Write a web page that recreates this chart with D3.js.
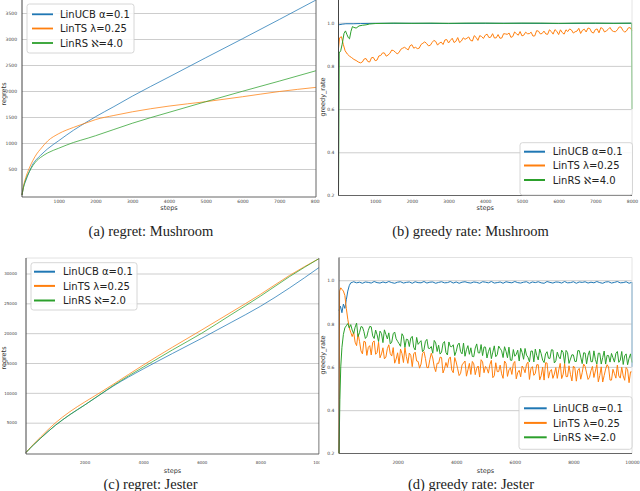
<!DOCTYPE html>
<html><head><meta charset="utf-8">
<script src="https://cdn.jsdelivr.net/npm/d3@7"></script>
<style>body{margin:0;background:#fff;}svg{display:block;}</style>
</head><body>
<svg id="chart" width="640" height="491"></svg>
<script>
// ---------------- DATA ----------------
const colors = ["#1f77b4", "#ff7f0e", "#2ca02c"];
const namesMushroom = ["LinUCB α=0.1", "LinTS λ=0.25", "LinRS ℵ=4.0"];
const namesJester = ["LinUCB α=0.1", "LinTS λ=0.25", "LinRS ℵ=2.0"];

// (a) regret: Mushroom
const aSteps = [0,50,100,200,300,400,500,700,1000,1400,1800,2000,2500,3000,4000,5000,6000,7000,8000];
const aUCB = [0,170,270,450,600,690,760,890,1045,1245,1420,1505,1700,1900,2270,2640,3005,3375,3750];
const aTS  = [0,200,330,520,670,790,880,1040,1180,1300,1400,1450,1530,1600,1710,1795,1890,1990,2070];
const aRS  = [0,180,290,450,570,660,720,810,900,1010,1095,1140,1260,1380,1590,1795,1995,2190,2390];
const aXTicks = [1000,2000,3000,4000,5000,6000,7000,8000];
const aYTicks = [500,1000,1500,2000,2500,3000,3500];

// (b) greedy rate: Mushroom
const bUCBSteps = [0,100,200,400,600,1000,2000,3000,4000,5000,6000,7000,8000];
const bUCB = [0.99,0.993,0.995,0.995,0.996,0.997,0.997,0.996,0.997,0.997,0.996,0.997,0.997];
const bRSSteps = [0,20,60,100,150,190,230,270,300,340,380,420,480,560,650,750,850,1000,1500,2000,
                  2500,3000,3500,4000,4500,5000,5500,6000,6500,7000,7500,7990,8000];
const bRS = [0.2,0.86,0.87,0.9,0.95,0.962,0.945,0.93,0.925,0.96,0.982,0.978,0.975,0.985,0.988,0.99,0.994,0.996,0.998,0.997,
             0.998,0.997,0.998,0.998,0.997,0.998,0.998,0.997,0.998,0.998,0.997,0.998,0.6];
const bTSEarlySteps = [0,30,80,130,180,240,300,360,420,480,540];
const bTSEarly = [0.88,0.93,0.935,0.9,0.87,0.855,0.845,0.838,0.83,0.825,0.818];
const bTSMainStart = 600, bTSMainEvery = 50;
const bTSMain = [
  .814,.818,.832,.834,.820,.818,.838,.839,.824,.827,.846,.848,.860,.860,.845,.850,.858,.873,.871,.863,
  .856,.862,.877,.882,.886,.880,.874,.893,.898,.882,.886,.880,.882,.899,.905,.911,.904,.893,.895,.908,
  .918,.913,.896,.906,.910,.899,.920,.922,.906,.918,.928,.908,.914,.931,.908,.915,.930,.923,.928,.934,
  .918,.915,.940,.932,.918,.940,.936,.927,.942,.947,.931,.933,.949,.929,.930,.945,.928,.929,.949,.948,
  .946,.952,.932,.936,.957,.949,.942,.959,.939,.942,.956,.949,.949,.956,.938,.939,.963,.961,.948,.950,
  .961,.948,.946,.967,.959,.947,.968,.960,.945,.967,.954,.947,.967,.959,.971,.966,.952,.958,.961,.974,
  .950,.965,.970,.957,.975,.973,.956,.952,.968,.971,.953,.977,.973,.957,.962,.969,.978,.964,.959,.958,
  .967,.980,.980,.965,.956,.962,.976,.977,.964];
const bXTicks = [1000,2000,3000,4000,5000,6000,7000,8000];
const bYTicks = [0.2,0.4,0.6,0.8,1.0];

// (c) regret: Jester
const cSteps = [0,100,250,500,1000,1500,2000,2500,3000,4000,5000,6000,7000,8000,9000,10000];
const cUCB = [0,520,1250,2400,4550,6350,7950,9600,11200,14000,16600,19150,21800,24500,27600,31000];
const cTS  = [0,560,1350,2600,4950,6850,8450,9950,11500,14650,17650,20550,23500,26500,29700,32500];
const cRS  = [0,520,1250,2400,4550,6350,7950,9620,11300,14300,17200,20000,23100,26200,29500,32500];
const cXTicks = [2000,4000,6000,8000,10000];
const cYTicks = [5000,10000,15000,20000,25000,30000];

// (d) greedy rate: Jester
const dUCBEarlySteps = [0,50,100,150,200,250,300,350,400,450];
const dUCBEarly = [0.86,0.88,0.85,0.89,0.87,0.91,0.95,0.975,0.988,0.99];
const dTSEarlySteps = [0,20,60,100,150,200,250,300,350,400,450];
const dTSEarly = [0.2,0.95,0.965,0.958,0.95,0.93,0.87,0.82,0.78,0.76,0.74];
const dRSEarlySteps = [0,30,60,100,150,200,250,300,350,400,450];
const dRSEarly = [0.2,0.45,0.6,0.69,0.75,0.78,0.79,0.80,0.78,0.795,0.77];
const dUCBStart = 500, dUCBEvery = 100;
const dUCBMain = [
  .993,.988,.991,.986,.992,.990,.987,.994,.989,.987,
  .992,.988,.994,.989,.986,.991,.993,.987,.990,.992,
  .986,.993,.989,.988,.994,.987,.991,.992,.986,.990,
  .993,.988,.989,.994,.987,.992,.986,.991,.993,.989,
  .987,.992,.990,.986,.993,.991,.988,.994,.987,.989,
  .992,.986,.993,.990,.988,.994,.989,.987,.991,.993,
  .986,.992,.989,.993,.988,.986,.994,.990,.987,.992,
  .991,.987,.994,.988,.989,.993,.986,.992,.990,.993,
  .987,.991,.988,.994,.989,.986,.992,.993,.987,.990,
  .994,.988,.989,.993,.986,.991];
const dUCBTailSteps = [10000];
const dUCBTail = [0.6];
const dMainStart = 500, dMainEvery = 50;
const dTSMain = [
  .760,.714,.698,.753,.718,.674,.660,.718,.715,.653,.690,.698,.655,.713,.720,.658,.666,.714,.642,.660,
  .688,.637,.645,.684,.702,.661,.650,.689,.617,.636,.665,.614,.682,.661,.620,.689,.647,.616,.664,.653,
  .601,.660,.668,.627,.625,.594,.613,.662,.670,.639,.597,.596,.634,.663,.641,.600,.578,.617,.616,.645,
  .643,.572,.591,.620,.598,.637,.646,.585,.573,.643,.622,.591,.560,.570,.609,.618,.627,.557,.586,.616,
  .565,.625,.614,.564,.594,.604,.553,.633,.623,.573,.602,.592,.571,.611,.630,.550,.559,.619,.578,.578,
  .608,.568,.547,.627,.616,.556,.586,.596,.565,.615,.625,.545,.574,.584,.554,.604,.593,.573,.612,.622,
  .542,.592,.601,.561,.570,.610,.610,.540,.559,.599,.539,.619,.618,.548,.578,.588,.547,.567,.597,.547,
  .586,.616,.546,.566,.615,.555,.555,.605,.565,.535,.604,.594,.534,.584,.593,.543,.573,.613,.602,.572,
  .542,.552,.582,.602,.551,.581,.611,.531,.560,.600,.530,.560,.590,.610,.599,.539,.539,.589,.569,.548,
  .608,.558,.548,.598,.558,.538,.597,.587,.527,.577,.577];
const dRSMain = [
  .754,.783,.802,.740,.758,.786,.784,.763,.731,.740,.768,.787,.785,.743,.731,.770,.748,.717,.765,.754,
  .712,.771,.750,.729,.757,.706,.714,.753,.761,.730,.718,.707,.695,.753,.741,.690,.728,.726,.694,.733,
  .741,.690,.678,.736,.704,.713,.721,.670,.679,.718,.727,.686,.685,.694,.663,.722,.711,.671,.700,.659,
  .668,.708,.717,.666,.655,.715,.694,.693,.702,.652,.671,.701,.710,.670,.660,.710,.649,.679,.698,.658,
  .688,.648,.647,.687,.706,.665,.664,.703,.652,.692,.691,.641,.670,.689,.638,.668,.697,.647,.656,.696,
  .685,.674,.643,.693,.672,.642,.691,.631,.630,.680,.649,.658,.677,.627,.686,.666,.635,.685,.654,.644,
  .623,.673,.673,.623,.682,.652,.632,.682,.661,.631,.620,.660,.670,.640,.639,.679,.678,.618,.628,.668,
  .647,.637,.677,.667,.616,.676,.666,.616,.636,.656,.655,.625,.625,.675,.675,.645,.615,.665,.664,.614,
  .654,.674,.624,.624,.674,.634,.613,.663,.663,.613,.643,.673,.613,.653,.652,.622,.662,.642,.622,.662,
  .671,.621,.631,.671,.611,.651,.660,.610,.640,.660,.620];
const dXTicks = [2000,4000,6000,8000,10000];
const dYTicks = [0.2,0.4,0.6,0.8,1.0];

// ---------------- HELPERS ----------------
const zip = (xs, ys) => xs.map((s, i) => [s, ys[i]]).filter(d => d[1] !== undefined);
const even = (start, every, ys) => ys.map((v, i) => [start + i * every, v]);

const svg = d3.select("#chart");
const defs = svg.append("defs");
const FONT = "DejaVu Sans, sans-serif";

defs.append("clipPath").attr("id", "leftcol").append("rect")
  .attr("x", 0).attr("y", 0).attr("width", 319.6).attr("height", 491);

function drawPanel(p) {
  const root = svg.append("g").attr("clip-path", p.colClip ? `url(#${p.colClip})` : null);
  const x = d3.scaleLinear().domain(p.xDomain).range([p.x0, p.x1]);
  const y = d3.scaleLinear().domain(p.yDomain).range([p.yB, p.yT]);

  const grid = root.append("g").attr("transform", `translate(${p.x0},0)`)
    .call(d3.axisLeft(y).tickValues(p.gridTicks).tickSize(-(p.x1 - p.x0)).tickFormat(""));
  grid.select(".domain").remove();
  grid.selectAll("line").attr("stroke", "#cdcdcd").attr("stroke-width", 1);

  const cid = "clip" + p.id;
  defs.append("clipPath").attr("id", cid).append("rect")
    .attr("x", p.x0 - 1).attr("y", p.yT - 2).attr("width", p.x1 - p.x0 + 2.5).attr("height", p.yB - p.yT + 2);
  const lg = root.append("g").attr("clip-path", `url(#${cid})`);
  const line = d3.line().x(d => x(d[0])).y(d => y(d[1])).curve(p.curve);
  p.series.forEach((s, i) => {
    lg.append("path").datum(s).attr("d", line).attr("fill", "none")
      .attr("stroke", colors[i]).attr("stroke-width", p.lw).attr("stroke-opacity", p.lo)
      .attr("stroke-linejoin", "round");
  });

  const sp = root.append("g");
  if (p.topSpine) sp.append("line").attr("x1", p.x0).attr("x2", p.x1).attr("y1", p.yT).attr("y2", p.yT)
    .attr("stroke", "#e2e2e2").attr("stroke-width", 1);
  sp.append("line").attr("x1", p.x1).attr("x2", p.x1).attr("y1", p.yT).attr("y2", p.yB)
    .attr("stroke", p.rightColor).attr("stroke-width", 1);
  sp.append("line").attr("x1", p.x0).attr("x2", p.x1).attr("y1", p.yB).attr("y2", p.yB)
    .attr("stroke", "#666").attr("stroke-width", 1);
  sp.append("line").attr("x1", p.x0).attr("x2", p.x0).attr("y1", p.yT).attr("y2", p.yB)
    .attr("stroke", "#444").attr("stroke-width", 1);

  const ya = root.append("g").attr("transform", `translate(${p.x0},0)`)
    .call(d3.axisLeft(y).tickValues(p.yTicks).tickSize(0).tickPadding(p.yPad).tickFormat(p.yFmt));
  ya.select(".domain").remove();
  ya.attr("font-family", FONT).attr("font-size", p.tickFs);
  ya.selectAll("text").attr("fill", "#444");

  const xa = root.append("g").attr("transform", `translate(0,${p.yB})`)
    .call(d3.axisBottom(x).tickValues(p.xTicks).tickSize(0).tickFormat(d3.format("d")));
  xa.select(".domain").remove();
  xa.attr("font-family", FONT).attr("font-size", p.tickFs);
  xa.selectAll("text").attr("y", p.xTickBase - p.yB).attr("dy", 0).attr("fill", "#444");

  root.append("text").attr("x", (p.x0 + p.x1) / 2).attr("y", p.stepsBase)
    .attr("text-anchor", "middle").attr("font-family", FONT).attr("font-size", 6.5)
    .attr("fill", "#333").text("steps");
  root.append("text").attr("transform", `translate(${p.ylX},${p.ylY}) rotate(-90)`)
    .attr("text-anchor", "middle").attr("dominant-baseline", "central")
    .attr("font-family", FONT).attr("font-size", 6.5).attr("fill", "#333").text(p.ylabel);

  const L = p.legend;
  const gl = svg.append("g");
  gl.append("rect").attr("x", L.x).attr("y", L.y).attr("width", L.w).attr("height", L.h)
    .attr("rx", 2.5).attr("fill", "#fff").attr("fill-opacity", 0.85)
    .attr("stroke", "#cccccc").attr("stroke-width", 0.8);
  L.rows.forEach((cy, i) => {
    gl.append("line").attr("x1", L.hx0).attr("x2", L.hx1).attr("y1", cy).attr("y2", cy)
      .attr("stroke", colors[i]).attr("stroke-width", L.hw);
    gl.append("text").attr("x", L.tx).attr("y", cy + 3.6)
      .attr("font-family", FONT).attr("font-size", 10).attr("fill", "#222").text(p.names[i]);
  });

  svg.append("text").attr("x", p.capX).attr("y", p.capY).attr("text-anchor", "middle")
    .attr("font-family", "Liberation Serif, serif").attr("font-size", 14.5).attr("fill", "#222")
    .text(p.caption);
}

const fmt1 = d3.format(".1f");
const fmtD = d3.format("d");

drawPanel({
  id: "a", colClip: "leftcol", x0: 22, x1: 316, yT: 0, yB: 197,
  xDomain: [0, 8000], yDomain: [-38, 3750],
  series: [zip(aSteps, aUCB), zip(aSteps, aTS), zip(aSteps, aRS)],
  curve: d3.curveMonotoneX, lw: 1, lo: 0.75,
  gridTicks: aYTicks, yTicks: aYTicks, yFmt: fmtD, yPad: 5, xTicks: aXTicks,
  tickFs: 4.5, xTickBase: 202.6, stepsBase: 210.3, ylX: 3.5, ylY: 94, ylabel: "regrets",
  topSpine: false, rightColor: "#666",
  names: namesMushroom,
  legend: {x: 27, y: 4, w: 107, h: 49, rows: [14.3, 28.5, 43], hx0: 32, hx1: 53, hw: 1.8, tx: 60},
  caption: "(a) regret: Mushroom", capX: 151, capY: 236
});

drawPanel({
  id: "b", x0: 338.5, x1: 632, yT: 0, yB: 195.5,
  xDomain: [0, 8000], yDomain: [0.2, 1.105],
  series: [zip(bUCBSteps, bUCB), zip(bTSEarlySteps, bTSEarly).concat(even(bTSMainStart, bTSMainEvery, bTSMain)), zip(bRSSteps, bRS)],
  curve: d3.curveLinear, lw: 1, lo: 1,
  gridTicks: [0.4, 0.6, 0.8, 1.0], yTicks: bYTicks, yFmt: fmt1, yPad: 4, xTicks: bXTicks,
  tickFs: 4.5, xTickBase: 202.6, stepsBase: 210.3, ylX: 322.7, ylY: 97, ylabel: "greedy_rate",
  topSpine: false, rightColor: "#e4e4e4",
  names: namesMushroom,
  legend: {x: 520, y: 142.7, w: 112.5, h: 52.3, rows: [151.7, 165.5, 180], hx0: 524, hx1: 545, hw: 2, tx: 552.7},
  caption: "(b) greedy rate: Mushroom", capX: 470.5, capY: 236
});

drawPanel({
  id: "c", colClip: "leftcol", x0: 26, x1: 319, yT: 258, yB: 454,
  xDomain: [0, 10000], yDomain: [-250, 32600],
  series: [zip(cSteps, cUCB), zip(cSteps, cTS), zip(cSteps, cRS)],
  curve: d3.curveMonotoneX, lw: 1, lo: 0.75,
  gridTicks: cYTicks, yTicks: cYTicks, yFmt: fmtD, yPad: 9, xTicks: cXTicks,
  tickFs: 4, xTickBase: 464, stepsBase: 473, ylX: 3.5, ylY: 358, ylabel: "regrets",
  topSpine: true, rightColor: "#555",
  names: namesJester,
  legend: {x: 31, y: 262.7, w: 106, h: 47.3, rows: [271.7, 285.9, 300.5], hx0: 34, hx1: 55, hw: 2, tx: 63},
  caption: "(c) regret: Jester", capX: 150.5, capY: 488.5
});

drawPanel({
  id: "d", x0: 339, x1: 632, yT: 257.5, yB: 453.5,
  xDomain: [0, 10000], yDomain: [0.2, 1.105],
  series: [
    zip(dUCBEarlySteps, dUCBEarly).concat(even(dUCBStart, dUCBEvery, dUCBMain)).concat(zip(dUCBTailSteps, dUCBTail)),
    zip(dTSEarlySteps, dTSEarly).concat(even(dMainStart, dMainEvery, dTSMain)),
    zip(dRSEarlySteps, dRSEarly).concat(even(dMainStart, dMainEvery, dRSMain))
  ],
  curve: d3.curveLinear, lw: 1, lo: 1,
  gridTicks: [0.4, 0.6, 0.8, 1.0], yTicks: dYTicks, yFmt: fmt1, yPad: 4.5, xTicks: dXTicks,
  tickFs: 4.5, xTickBase: 464, stepsBase: 473, ylX: 323.3, ylY: 355, ylabel: "greedy_rate",
  topSpine: true, rightColor: "#e4e4e4",
  names: namesJester,
  legend: {x: 519, y: 396.7, w: 113, h: 52.6, rows: [408.3, 422.9, 437.3], hx0: 524, hx1: 546.7, hw: 2, tx: 553},
  caption: "(d) greedy rate: Jester", capX: 471, capY: 488.5
});
</script>
</body></html>
